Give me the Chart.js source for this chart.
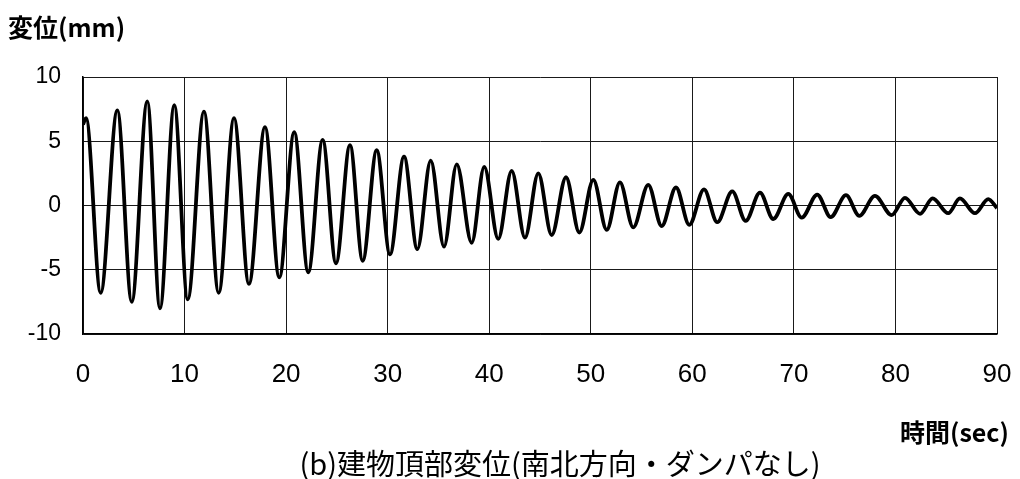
<!DOCTYPE html>
<html>
<head>
<meta charset="utf-8">
<script src="https://cdn.jsdelivr.net/npm/chart.js@4/dist/chart.umd.min.js"></script>
<style>
  html, body { margin: 0; padding: 0; background: #fff; }
  #wrap { position: relative; width: 1020px; height: 479px; overflow: hidden; }
  canvas { position: absolute; left: 0; top: 0; }
  .lbl { position: absolute; font-family: "Noto Sans CJK JP", "Noto Sans", sans-serif; color: #000; white-space: nowrap; line-height: 1; }
</style>
</head>
<body>
<div id="wrap">
  <canvas id="c" width="1020" height="479"></canvas>
  <div class="lbl" id="ytitle" style="left:8px; top:14px; font-size:25px; font-weight:bold;">変位(mm)</div>
  <div class="lbl" id="xtitle" style="left:900px; top:419px; font-size:25px; font-weight:bold;">時間(sec)</div>
  <div class="lbl" id="title" style="left:560px; top:448px; font-size:29px; transform:translateX(-50%);">(b)建物頂部変位(南北方向・ダンパなし)</div>
</div>
<script>
// Time (sec) of each read extremum of the trace
const times = [0, 0.3, 1.74, 3.38, 4.8, 6.33, 7.58, 8.99, 10.31, 11.91, 13.36, 14.87, 16.34, 17.92, 19.33,
  20.8, 22.18, 23.6, 24.91, 26.29, 27.54, 28.92, 30.23, 31.61, 32.92, 34.24, 35.55, 36.8, 38.27, 39.51,
  40.89, 42.21, 43.52, 44.83, 46.15, 47.56, 48.87, 50.25, 51.57, 52.87, 54.18, 55.66, 56.98, 58.39, 59.7,
  61.15, 62.45, 63.93, 65.25, 66.66, 67.97, 69.45, 70.77, 72.3, 73.62, 75.13, 76.44, 77.98, 79.63,
  80.94, 82.42, 83.66, 85.2, 86.35, 87.83, 89.14, 90];
// Displacement (mm) at those times
const disp = [6.3, 6.8, -6.8, 7.4, -7.5, 8.1, -8.0, 7.8, -7.3, 7.3, -6.8, 6.8, -6.1, 6.1, -5.6,
  5.7, -5.2, 5.1, -4.5, 4.7, -4.3, 4.3, -3.8, 3.8, -3.4, 3.5, -3.2, 3.2, -2.9, 3.0,
  -2.6, 2.7, -2.5, 2.5, -2.3, 2.2, -2.1, 2.0, -1.9, 1.8, -1.7, 1.6, -1.6, 1.4, -1.5,
  1.25, -1.3, 1.1, -1.2, 1.0, -1.05, 0.9, -0.95, 0.85, -0.9, 0.8, -0.8, 0.75, -0.75,
  0.6, -0.65, 0.55, -0.6, 0.55, -0.6, 0.5, -0.2];
const xTicks = [0, 10, 20, 30, 40, 50, 60, 70, 80, 90];
const yTicks = [-10, -5, 0, 5, 10];

const points = times.map((t, i) => ({ x: t, y: disp[i] }));

new Chart(document.getElementById('c'), {
  type: 'line',
  data: {
    datasets: [{
      data: points,
      borderColor: '#000',
      borderWidth: 3.8,
      pointRadius: 0,
      fill: false,
      cubicInterpolationMode: 'monotone'
    }]
  },
  options: {
    responsive: false,
    animation: false,
    devicePixelRatio: 1,
    layout: { padding: { left: 0, right: 23, top: 77, bottom: 0 } },
    plugins: { legend: { display: false }, tooltip: { enabled: false }, title: { display: false } },
    scales: {
      x: {
        type: 'linear', min: 0, max: 90,
        afterBuildTicks: (s) => { s.ticks = xTicks.map(v => ({ value: v })); },
        afterFit: (s) => { s.height = 479 - 334; s.paddingLeft = 0; s.paddingRight = 0; },
        grid: { color: '#1a1a1a', lineWidth: 1, drawTicks: false },
        border: { color: '#000', width: 1.5 },
        ticks: {
          padding: 25, color: '#000',
          font: { family: '"Liberation Sans", Arial, sans-serif', size: 26 },
          maxRotation: 0, autoSkip: false
        }
      },
      y: {
        type: 'linear', min: -10, max: 10,
        afterBuildTicks: (s) => { s.ticks = yTicks.map(v => ({ value: v })); },
        afterFit: (s) => { s.width = 83; s.paddingTop = 0; s.paddingBottom = 0; },
        grid: { color: '#1a1a1a', lineWidth: 1, drawTicks: false },
        border: { color: '#000', width: 1.5 },
        ticks: {
          padding: 22, color: '#000',
          font: { family: '"Liberation Sans", Arial, sans-serif', size: 23 }
        }
      }
    }
  }
});
</script>
</body>
</html>
